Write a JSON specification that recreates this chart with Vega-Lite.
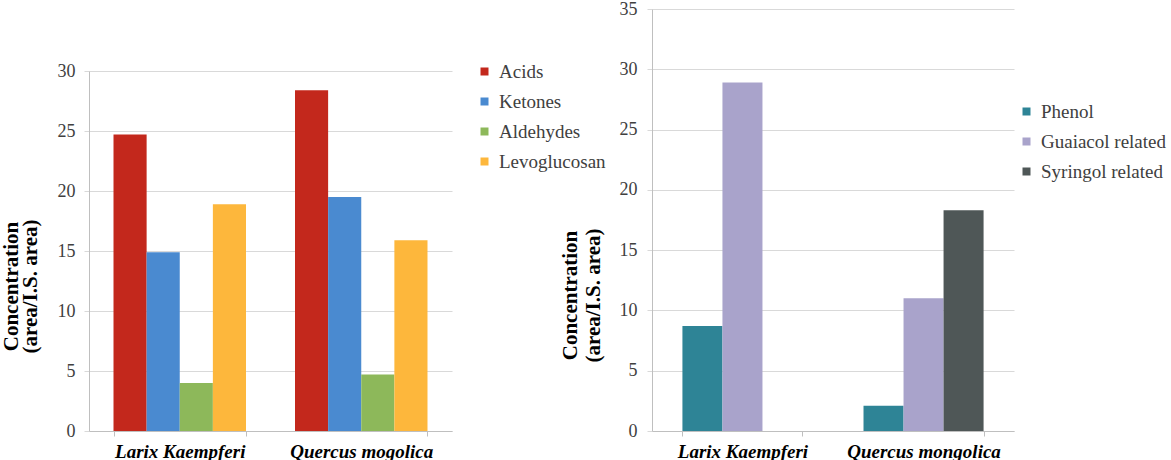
{
  "$schema": "https://vega.github.io/schema/vega-lite/v6.json",
  "background": "white",
  "padding": {"left": 0, "top": 0, "right": 0, "bottom": 0},
  "config": {
    "view": {"stroke": null},
    "font": "Liberation Serif",
    "style": {
      "guide-label": {"font": "Liberation Serif"},
      "guide-title": {"font": "Liberation Serif"}
    },
    "axis": {"labelFont": "Liberation Serif", "titleFont": "Liberation Serif"},
    "legend": {"labelFont": "Liberation Serif"}
  },
  "datasets": {
    "volatiles": [
      {"species": "Larix Kaempferi", "compound": "Acids", "conc": 24.7},
      {"species": "Larix Kaempferi", "compound": "Ketones", "conc": 14.9},
      {"species": "Larix Kaempferi", "compound": "Aldehydes", "conc": 4.0},
      {"species": "Larix Kaempferi", "compound": "Levoglucosan", "conc": 18.9},
      {"species": "Quercus mogolica", "compound": "Acids", "conc": 28.4},
      {"species": "Quercus mogolica", "compound": "Ketones", "conc": 19.5},
      {"species": "Quercus mogolica", "compound": "Aldehydes", "conc": 4.7},
      {"species": "Quercus mogolica", "compound": "Levoglucosan", "conc": 15.9}
    ],
    "phenolics": [
      {"species": "Larix Kaempferi", "compound": "Phenol", "conc": 8.7},
      {"species": "Larix Kaempferi", "compound": "Guaiacol related", "conc": 28.9},
      {"species": "Larix Kaempferi", "compound": "Syringol related", "conc": 0},
      {"species": "Quercus mongolica", "compound": "Phenol", "conc": 2.1},
      {"species": "Quercus mongolica", "compound": "Guaiacol related", "conc": 11.0},
      {"species": "Quercus mongolica", "compound": "Syringol related", "conc": 18.3}
    ]
  },
  "bounds": "flush",
  "spacing": 200,
  "resolve": {"scale": {"x": "independent", "y": "independent", "xOffset": "independent", "color": "independent"}},
  "hconcat": [
    {
      "width": 363,
      "height": 422,
      "data": {"name": "volatiles"},
      "mark": {"type": "bar"},
      "encoding": {
        "x": {
          "field": "species", "type": "nominal",
          "sort": ["Larix Kaempferi", "Quercus mogolica"],
          "scale": {"paddingInner": 0.27, "paddingOuter": 0.135},
          "axis": {
            "title": null, "labelAngle": 0, "labelFont": "Liberation Serif", "labelFontSize": 19, "labelFontWeight": "bold",
            "labelFontStyle": "italic", "labelColor": "#000000", "domainColor": "#bfbfbf",
            "tickColor": "#bfbfbf", "tickSize": 5, "tickBand": "extent", "labelPadding": 6, "grid": false
          }
        },
        "xOffset": {"field": "compound", "type": "nominal", "sort": ["Acids", "Ketones", "Aldehydes", "Levoglucosan"]},
        "y": {
          "field": "conc", "type": "quantitative",
          "scale": {"domain": [0, 30], "range": [422, 62], "nice": false},
          "axis": {
            "values": [0, 5, 10, 15, 20, 25, 30],
            "title": ["Concentration", "(area/I.S.  area)"],
            "grid": true, "gridColor": "#d9d9d9", "domainColor": "#bfbfbf",
            "tickColor": "#d9d9d9", "tickSize": 5, "labelPadding": 9,
            "labelFont": "Liberation Serif", "labelFontSize": 18,
            "labelColor": "#404040", "titleFont": "Liberation Serif", "titleFontSize": 21, "titleFontWeight": "bold",
            "titleColor": "#000000", "titlePadding": 17, "titleLineHeight": 19, "titleY": 277
          }
        },
        "color": {
          "field": "compound", "type": "nominal",
          "scale": {
            "domain": ["Acids", "Ketones", "Aldehydes", "Levoglucosan"],
            "range": ["#c3281c", "#4a8ad0", "#8db85a", "#fdb73c"]
          },
          "legend": {
            "orient": "none", "legendX": 386, "legendY": 53, "title": null,
            "symbolType": "square", "symbolSize": 64, "symbolStrokeWidth": 0,
            "labelFont": "Liberation Serif", "labelFontSize": 19, "labelColor": "#404040", "rowPadding": 10,
            "labelOffset": 5, "padding": 0
          }
        }
      }
    },
    {
      "width": 362,
      "height": 422,
      "data": {"name": "phenolics"},
      "mark": {"type": "bar"},
      "encoding": {
        "x": {
          "field": "species", "type": "nominal",
          "sort": ["Larix Kaempferi", "Quercus mongolica"],
          "scale": {"paddingInner": 0.337, "paddingOuter": 0.168},
          "axis": {
            "title": null, "labelAngle": 0, "labelFont": "Liberation Serif", "labelFontSize": 19, "labelFontWeight": "bold",
            "labelFontStyle": "italic", "labelColor": "#000000", "domainColor": "#bfbfbf",
            "tickColor": "#bfbfbf", "tickSize": 5, "tickBand": "extent", "labelPadding": 6, "grid": false
          }
        },
        "xOffset": {"field": "compound", "type": "nominal", "sort": ["Phenol", "Guaiacol related", "Syringol related"]},
        "y": {
          "field": "conc", "type": "quantitative",
          "scale": {"domain": [0, 35], "nice": false},
          "axis": {
            "values": [0, 5, 10, 15, 20, 25, 30, 35],
            "title": ["Concentration", "(area/I.S.  area)"],
            "grid": true, "gridColor": "#d9d9d9", "domainColor": "#bfbfbf",
            "tickColor": "#d9d9d9", "tickSize": 5, "labelPadding": 10,
            "labelFont": "Liberation Serif", "labelFontSize": 18,
            "labelColor": "#404040", "titleFont": "Liberation Serif", "titleFontSize": 21, "titleFontWeight": "bold",
            "titleColor": "#000000", "titlePadding": 16, "titleLineHeight": 23, "titleY": 286
          }
        },
        "color": {
          "field": "compound", "type": "nominal",
          "scale": {
            "domain": ["Phenol", "Guaiacol related", "Syringol related"],
            "range": ["#2e8496", "#a9a3cb", "#4f5757"]
          },
          "legend": {
            "orient": "none", "legendX": 365, "legendY": 93, "title": null,
            "symbolType": "square", "symbolSize": 64, "symbolStrokeWidth": 0,
            "labelFont": "Liberation Serif", "labelFontSize": 19, "labelColor": "#404040", "rowPadding": 10,
            "labelOffset": 5, "padding": 0
          }
        }
      }
    }
  ]
}
